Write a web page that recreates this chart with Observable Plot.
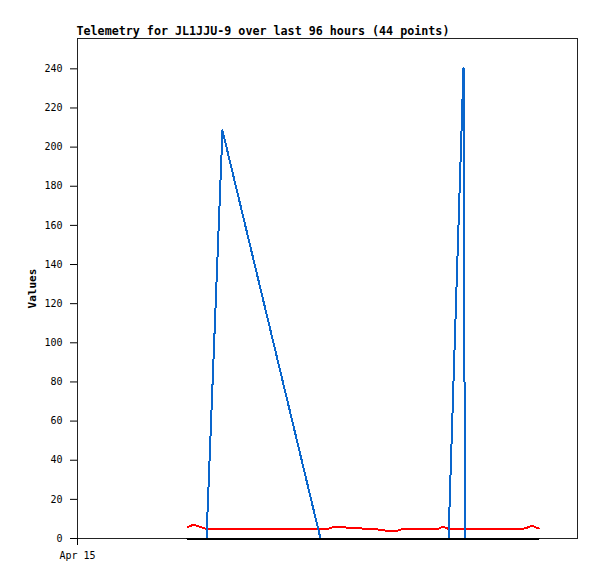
<!DOCTYPE html>
<html>
<head>
<meta charset="utf-8">
<script src="https://cdn.jsdelivr.net/npm/d3@7"></script>
<script src="https://cdn.jsdelivr.net/npm/@observablehq/plot@0.6"></script>
<style>
  html, body { margin: 0; padding: 0; background: white; }
</style>
</head>
<body>
<div id="chart"></div>
<script>
const titleText = "Telemetry for JL1JJU-9 over last 96 hours (44 points)";
const yLabel = "Values";
const yTicks = [0, 20, 40, 60, 80, 100, 120, 140, 160, 180, 200, 220, 240];
const xTickDates = ["2024-04-15T00:00Z"];
const xDomain = ["2024-04-15T00:00Z", "2024-04-19T00:00Z"];

const times = [
  "2024-04-15T21:07Z", "2024-04-15T22:16Z", "2024-04-15T23:25Z", "2024-04-16T00:46Z",
  "2024-04-16T03:50Z", "2024-04-16T06:32Z", "2024-04-16T09:13Z", "2024-04-16T11:54Z",
  "2024-04-16T14:35Z", "2024-04-16T17:17Z", "2024-04-16T19:58Z", "2024-04-16T22:39Z",
  "2024-04-17T00:00Z", "2024-04-17T01:09Z", "2024-04-17T02:41Z", "2024-04-17T04:13Z",
  "2024-04-17T05:46Z", "2024-04-17T07:18Z", "2024-04-17T08:50Z", "2024-04-17T10:22Z",
  "2024-04-17T11:54Z", "2024-04-17T13:15Z", "2024-04-17T14:24Z", "2024-04-17T16:08Z",
  "2024-04-17T17:51Z", "2024-04-17T19:35Z", "2024-04-17T21:19Z", "2024-04-17T22:05Z",
  "2024-04-17T23:14Z", "2024-04-18T02:07Z", "2024-04-18T02:24Z", "2024-04-18T04:02Z",
  "2024-04-18T05:46Z", "2024-04-18T07:29Z", "2024-04-18T09:13Z", "2024-04-18T10:57Z",
  "2024-04-18T12:29Z", "2024-04-18T13:26Z", "2024-04-18T14:13Z", "2024-04-18T14:59Z",
  "2024-04-18T15:33Z", "2024-04-18T15:56Z", "2024-04-18T16:19Z", "2024-04-18T16:37Z"
];

const redValues = [
  5.8, 7.1, 6.0, 4.9,
  4.9, 4.9, 4.9, 4.9,
  4.9, 4.9, 4.9, 4.9,
  4.9, 5.9, 5.9, 5.4,
  5.4, 4.9, 4.9, 4.3,
  3.8, 3.8, 4.9, 4.9,
  4.9, 4.9, 4.9, 6.1,
  4.9, 4.9, 4.9, 4.9,
  4.9, 4.9, 4.9, 4.9,
  4.9, 4.9, 5.4, 6.3,
  6.2, 5.8, 5.3, 5.1
];

const blueValues = [
  0, 0, 0, 0,
  208.5, null, null, null,
  null, null, null, 0,
  0, 0, 0, 0,
  0, 0, 0, 0,
  0, 0, 0, 0,
  0, 0, 0, 0,
  0, 240.5, 0, 0,
  0, 0, 0, 0,
  0, 0, 0, 0,
  0, 0, 0, 0
];

const blackValues = [
  0, 0, 0, 0, 0, 0, 0, 0, 0, 0, 0,
  0, 0, 0, 0, 0, 0, 0, 0, 0, 0, 0,
  0, 0, 0, 0, 0, 0, 0, 0, 0, 0, 0,
  0, 0, 0, 0, 0, 0, 0, 0, 0, 0, 0
];

const rows = times.map((t, i) => ({
  t: new Date(t),
  red: redValues[i],
  blue: blueValues[i],
  black: blackValues[i]
}));

const plot = Plot.plot({
  width: 597,
  height: 579,
  marginLeft: 77,
  marginRight: 20,
  marginTop: 38,
  marginBottom: 41,
  style: {
    fontFamily: "'DejaVu Sans Mono', monospace",
    fontSize: "10px",
    background: "white",
    color: "black"
  },
  x: { type: "utc", domain: xDomain.map(d => new Date(d)) },
  y: { domain: [0, 255.5] },
  marks: [
    Plot.frame({ stroke: "#222" }),
    Plot.axisY({ ticks: yTicks, tickSize: 7, tickPadding: 8, label: null }),
    Plot.axisX({
      ticks: xTickDates.map(d => new Date(d)),
      tickFormat: d3.utcFormat("%b %d"),
      tickSize: 7,
      tickPadding: 6,
      label: null
    }),
    Plot.line(rows, { x: "t", y: "red", stroke: "#ff0000", strokeWidth: 2, shapeRendering: "crispEdges" }),
    Plot.line(rows, { x: "t", y: "blue", filter: d => d.blue != null, stroke: "#0a66cc", strokeWidth: 2, shapeRendering: "crispEdges" }),
    Plot.line(rows, { x: "t", y: "black", stroke: "#000000", strokeWidth: 2, shapeRendering: "crispEdges" }),
    Plot.text([titleText], {
      frameAnchor: "top-left",
      textAnchor: "start",
      lineAnchor: "bottom",
      dx: -1,
      dy: -4,
      fontWeight: "bold",
      fontSize: 11.7,
      fill: "black"
    }),
    Plot.text([yLabel], {
      frameAnchor: "left",
      textAnchor: "middle",
      rotate: -90,
      dx: -45,
      fontWeight: "bold",
      fontSize: 11,
      fill: "black"
    })
  ]
});

document.getElementById("chart").appendChild(plot);
</script>
</body>
</html>
